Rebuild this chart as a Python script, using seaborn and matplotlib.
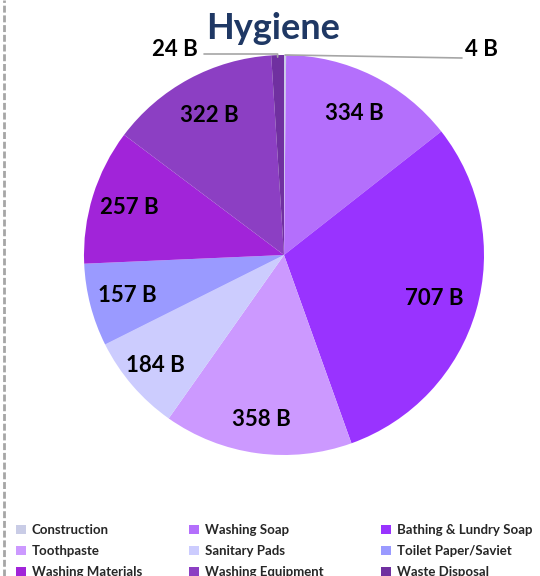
import matplotlib
matplotlib.use("Agg")
import matplotlib.pyplot as plt
from matplotlib.lines import Line2D
import numpy as np
import seaborn as sns

sns.set_style("white")
plt.rcParams["font.family"] = ["Lato", "DejaVu Sans"]

# Hygiene spending by category (billions)
categories = ["Construction", "Washing Soap", "Bathing & Lundry Soap", "Toothpaste",
              "Sanitary Pads", "Toilet Paper/Saviet", "Washing Materials",
              "Washing Equipment", "Waste Disposal"]
values = [4, 334, 707, 358, 184, 157, 257, 322, 24]
value_labels = ["4 B", "334 B", "707 B", "358 B", "184 B", "157 B", "257 B", "322 B", "24 B"]
colors = ["#c9cce6", "#b46ffc", "#9933ff", "#cc99ff", "#ccccfe",
          "#9a9aff", "#a124d9", "#8c3fc3", "#7030a0"]

fig = plt.figure(figsize=(5.4, 5.76), dpi=100)
ax = fig.add_axes([84 / 540, 121 / 576, 400 / 540, 400 / 576])

wedges, _ = ax.pie(values, colors=colors, startangle=90, counterclock=False,
                   radius=1.0, wedgeprops=dict(linewidth=0))
ax.set_xlim(-1, 1)
ax.set_ylim(-1, 1)
ax.set_aspect("equal")
ax.axis("off")

# inside value labels at each wedge's mid angle
total = sum(values)
start = 0.0
mids = []
for v in values:
    mids.append(start + v / total * 360 / 2)
    start += v / total * 360
label_r = [0, 0.79, 0.78, 0.83, 0.85, 0.81, 0.81, 0.79, 0]
for i, (lab, ang) in enumerate(zip(value_labels, mids)):
    if values[i] < 50:
        continue
    a = np.deg2rad(ang)
    r = label_r[i]
    ax.text(r * np.sin(a), r * np.cos(a), lab, ha="center", va="center",
            fontsize=16, fontweight="bold", color="black")

# small slices: leader lines to outside labels
lead = "#a6a6a6"
a_w = np.deg2rad(mids[8])
ax.plot([np.sin(a_w) * 0.99, np.sin(a_w), -0.40], [np.cos(a_w) * 0.99, 1.005, 1.005],
        color=lead, lw=1.2, clip_on=False)
ax.text(-0.43, 1.025, value_labels[8], ha="right", va="center",
        fontsize=16, fontweight="bold", color="black")
a_c = np.deg2rad(mids[0])
ax.plot([np.sin(a_c), 0.02, 0.89], [np.cos(a_c), 1.0, 0.985],
        color=lead, lw=1.2, clip_on=False)
ax.text(0.905, 1.025, value_labels[0], ha="left", va="center",
        fontsize=16, fontweight="bold", color="black")

fig.text(0.506, 0.950, "Hygiene", ha="center", va="center",
         fontsize=26, fontweight="bold", color="#1f3864")

# legend: three columns, row-major order
col_x = [16 / 540, 189 / 540, 381 / 540]
for c in range(3):
    idx = [c, c + 3, c + 6]
    fig.legend([wedges[i] for i in idx], [categories[i] for i in idx],
               loc="upper left", bbox_to_anchor=(col_x[c], 1 - 524 / 576),
               frameon=False, prop=dict(weight="bold", size=9.5),
               handlelength=0.75, handleheight=0.75, handletextpad=0.45,
               labelspacing=0.68, borderpad=0, borderaxespad=0)

# dashed frame edge on the left
fig.add_artist(Line2D([4 / 540, 4 / 540], [0, 1], transform=fig.transFigure,
                      color="#a6a6a6", lw=2, linestyle=(0, (2.5, 1))))

fig.savefig("out.png", dpi=100)
